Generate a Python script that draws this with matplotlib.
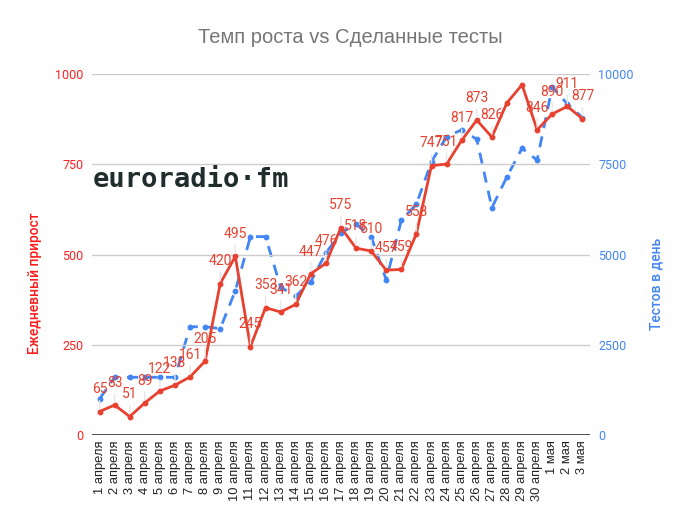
import numpy as np
import matplotlib.pyplot as plt

# Данные
dates = [f"{d} апреля" for d in range(1, 31)] + ["1 мая", "2 мая", "3 мая"]
prirost = [65, 83, 51, 89, 122, 138, 161, 205, 420, 495, 245, 353, 341, 362, 447, 476,
           575, 518, 510, 457, 459, 558, 747, 751, 817, 873, 826, 921, 971, 846, 890, 911, 877]
testy = [1000, 1600, 1600, 1600, 1600, 1600, 3000, 3000, 2950, 4000, 5500, 5500, 4100,
         3850, 4250, 5050, 5600, 5850, 5500, 4300, 5950, 6400, 7580, 8270, 8460, 8200,
         6300, 7160, 7950, 7620, 9650, 9180, 8800]
# метки, которые не показаны на графике
skip_labels = [27, 28]

red = '#e8412f'
blue = '#4285f4'
plt.rcParams['font.family'] = ['Roboto', 'DejaVu Sans']

fig = plt.figure(figsize=(6.9, 5.27), dpi=100)
ax1 = fig.add_axes([0.1333, 0.1746, 0.7217, 0.6844])
ax2 = ax1.twinx()

x = np.arange(len(dates))

ax2.plot(x, testy, color=blue, lw=2, ls=(0, (4, 3)), marker='o', ms=3.2)
ax1.plot(x, prirost, color=red, lw=2, marker='o', ms=3.2)

for i, v in enumerate(prirost):
    if i in skip_labels:
        continue
    ax1.annotate('', xy=(i, v), xytext=(0, 10), textcoords='offset points',
                 arrowprops=dict(arrowstyle='-', color='#e6e6e6', lw=1))
    ax1.annotate(str(v), xy=(i, v), xytext=(0, 16), textcoords='offset points',
                 ha='center', va='center', color=red, fontsize=10)

ax1.set_zorder(ax2.get_zorder() + 1)
ax1.patch.set_visible(False)

ax1.set_xlim(-0.5, len(dates) - 0.5)
ax1.set_ylim(0, 1000)
ax2.set_ylim(0, 10000)
ax1.set_yticks([0, 250, 500, 750, 1000])
ax2.set_yticks([0, 2500, 5000, 7500, 10000])
ax1.set_xticks(x)
ax1.set_xticklabels(dates, rotation=90, fontsize=9.3, color='#222222',
                    family=['Liberation Sans', 'DejaVu Sans'])

ax1.grid(axis='y', color='#cccccc', lw=1)
for ax in (ax1, ax2):
    for s in ['top', 'left', 'right', 'bottom']:
        ax.spines[s].set_visible(False)
    ax.tick_params(length=0)
ax1.axhline(0, color='#333333', lw=1.2, zorder=5)

ax1.tick_params(axis='y', colors='#ff2020', labelsize=9, pad=6)
ax2.tick_params(axis='y', colors=blue, labelsize=9, pad=6)
ax1.tick_params(axis='x', pad=4)

ax1.set_ylabel('Ежедневный прирост', color='#ff1a1a', fontsize=10, fontweight='medium')
ax1.yaxis.set_label_coords(-0.1, 0.42)
ax2.set_ylabel('Тестов в день', color=blue, fontsize=10, fontweight='medium', rotation=90)
ax2.yaxis.set_label_coords(1.12, 0.42)

fig.text(0.507, 0.928, 'Темп роста vs Сделанные тесты', ha='center', va='center',
         fontsize=14.5, color='#757575', family=['Liberation Sans', 'DejaVu Sans'])

# логотип
fig.text(93 / 690, 1 - 187 / 527, 'euroradio·fm', ha='left', va='baseline',
         fontsize=19.5, color='#1f2d2d', family='DejaVu Sans Mono', fontweight='bold')

fig.savefig('out.png', dpi=100)
